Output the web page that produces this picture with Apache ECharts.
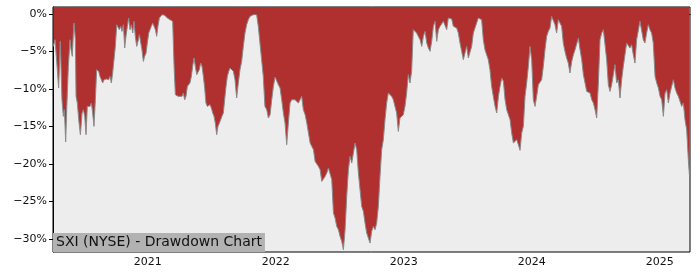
<!DOCTYPE html>
<html>
<head>
<meta charset="utf-8">
<script src="https://cdn.jsdelivr.net/npm/echarts@6/dist/echarts.min.js"></script>
<style>html,body{margin:0;padding:0;background:#fff}#c{width:700px;height:280px}</style>
</head>
<body>
<div id="c"></div>
<script>
// Dates as decimal years, drawdown in percent
const years = [
2020.263,2020.276,2020.289,2020.304,2020.317,2020.330,2020.341,2020.349,2020.359,2020.367,
2020.380,2020.393,2020.401,2020.411,2020.419,2020.424,2020.435,2020.440,2020.450,2020.461,
2020.474,2020.487,2020.497,2020.508,2020.518,2020.528,2020.539,2020.549,2020.560,2020.570,
2020.580,2020.591,2020.601,2020.617,2020.627,2020.638,2020.648,2020.659,2020.669,2020.679,
2020.695,2020.705,2020.716,2020.726,2020.737,2020.747,2020.758,2020.768,2020.778,2020.789,
2020.799,2020.810,2020.820,2020.830,2020.841,2020.851,2020.862,2020.872,2020.883,2020.893,
2020.903,2020.914,2020.924,2020.935,2020.945,2020.955,2020.966,2020.976,2020.987,2020.997,
2021.008,2021.018,2021.028,2021.039,2021.049,2021.060,2021.070,2021.080,2021.091,2021.101,
2021.112,2021.122,2021.133,2021.143,2021.153,2021.164,2021.174,2021.185,2021.195,2021.206,
2021.216,2021.226,2021.237,2021.252,2021.268,2021.278,2021.289,2021.299,2021.310,2021.320,
2021.330,2021.341,2021.351,2021.362,2021.372,2021.383,2021.393,2021.403,2021.414,2021.424,
2021.435,2021.445,2021.455,2021.466,2021.476,2021.487,2021.497,2021.508,2021.518,2021.528,
2021.539,2021.549,2021.560,2021.570,2021.580,2021.591,2021.601,2021.612,2021.622,2021.633,
2021.643,2021.656,2021.669,2021.682,2021.695,2021.708,2021.721,2021.734,2021.747,2021.760,
2021.773,2021.786,2021.799,2021.812,2021.825,2021.838,2021.851,2021.864,2021.877,2021.890,
2021.903,2021.916,2021.930,2021.943,2021.956,2021.969,2021.982,2021.995,2022.008,2022.021,
2022.034,2022.047,2022.060,2022.073,2022.086,2022.099,2022.112,2022.125,2022.138,2022.151,
2022.164,2022.177,2022.190,2022.203,2022.216,2022.230,2022.243,2022.256,2022.269,2022.282,
2022.295,2022.308,2022.321,2022.334,2022.347,2022.360,2022.373,2022.386,2022.399,2022.412,
2022.425,2022.438,2022.451,2022.464,2022.477,2022.490,2022.503,2022.516,2022.529,2022.542,
2022.555,2022.568,2022.581,2022.594,2022.607,2022.620,2022.633,2022.646,2022.659,2022.672,
2022.685,2022.698,2022.711,2022.724,2022.737,2022.750,2022.763,2022.776,2022.789,2022.802,
2022.815,2022.828,2022.841,2022.854,2022.867,2022.880,2022.893,2022.906,2022.919,2022.932,
2022.945,2022.958,2022.971,2022.984,2022.997,2023.010,2023.023,2023.036,2023.049,2023.062,
2023.075,2023.088,2023.101,2023.114,2023.128,2023.141,2023.154,2023.167,2023.180,2023.193,
2023.206,2023.219,2023.232,2023.245,2023.258,2023.271,2023.284,2023.297,2023.310,2023.323,
2023.336,2023.349,2023.362,2023.375,2023.388,2023.401,2023.414,2023.427,2023.440,2023.453,
2023.466,2023.479,2023.492,2023.505,2023.518,2023.531,2023.544,2023.557,2023.570,2023.583,
2023.596,2023.609,2023.622,2023.635,2023.648,2023.661,2023.674,2023.687,2023.700,2023.714,
2023.727,2023.740,2023.753,2023.766,2023.779,2023.792,2023.805,2023.818,2023.831,2023.844,
2023.857,2023.870,2023.883,2023.896,2023.909,2023.922,2023.935,2023.948,2023.961,2023.974,
2023.987,2024.000,2024.013,2024.026,2024.039,2024.052,2024.065,2024.078,2024.091,2024.104,
2024.117,2024.130,2024.143,2024.156,2024.169,2024.182,2024.195,2024.208,2024.221,2024.234,
2024.247,2024.260,2024.273,2024.286,2024.299,2024.313,2024.326,2024.339,2024.352,2024.365,
2024.378,2024.391,2024.404,2024.417,2024.430,2024.443,2024.456,2024.469,2024.482,2024.495,
2024.508,2024.521,2024.534,2024.547,2024.560,2024.573,2024.586,2024.599,2024.612,2024.625,
2024.638,2024.651,2024.664,2024.677,2024.690,2024.703,2024.716,2024.729,2024.742,2024.755,
2024.768,2024.781,2024.794,2024.807,2024.820,2024.833,2024.846,2024.859,2024.872,2024.885,
2024.898,2024.911,2024.924,2024.937,2024.950,2024.964,2024.977,2024.990,2025.003,2025.016,
2025.029,2025.042,2025.055,2025.068,2025.081,2025.094,2025.107,2025.120,2025.133,2025.146,
2025.159,2025.172,2025.185,2025.198,2025.211,2025.224,2025.232
];
const drawdown = [
-4.32,-3.43,-6.32,-9.87,-3.65,-11.43,-13.65,-12.76,-17.07,-12.76,
-6.98,-3.43,-4.76,-5.65,-2.54,-1.20,-3.43,-10.98,-11.87,-14.09,
-16.09,-13.20,-12.76,-13.65,-16.09,-12.32,-12.09,-12.32,-11.87,-13.20,
-14.98,-11.43,-7.43,-7.65,-8.32,-8.76,-9.20,-8.76,-8.98,-8.67,
-8.76,-8.32,-9.20,-7.87,-7.65,-4.32,-1.43,-1.20,-2.09,-1.65,
-2.32,-1.43,-4.54,-2.98,-1.65,-0.54,-2.09,-1.43,-2.54,-0.98,
-2.98,-4.32,-3.65,-2.76,-2.98,-4.76,-6.32,-5.65,-5.20,-3.87,
-2.54,-2.09,-1.65,-1.20,-0.98,-2.09,-2.98,-1.65,-0.54,-0.32,
-0.09,-0.32,-0.18,0,-0.54,-0.67,-0.76,-0.76,-0.98,-6.98,
-10.76,-10.98,-10.98,-10.76,-10.98,-10.54,-11.43,-10.98,-9.65,-9.87,
-9.20,-8.32,-6.98,-5.87,-6.98,-8.09,-8.32,-7.43,-6.54,-6.98,
-8.32,-9.87,-11.87,-12.32,-12.32,-12.09,-12.54,-13.20,-13.65,-14.54,
-16.09,-14.98,-14.54,-14.09,-13.65,-13.20,-11.43,-9.65,-8.32,-7.65,
-7.20,-6.98,-7.65,-8.76,-11.20,-9.20,-7.43,-6.32,-4.32,-2.54,
-1.43,-0.76,-0.32,-0.18,-0.09,0,-0.09,-1.65,-3.87,-6.09,
-8.32,-12.32,-12.76,-13.87,-13.43,-11.43,-9.65,-8.40,-8.54,-9.43,
-9.87,-11.43,-13.20,-14.54,-17.43,-14.54,-11.87,-11.43,-11.65,-11.43,
-11.20,-11.87,-11.43,-10.98,-12.76,-13.43,-14.54,-15.87,-17.20,-17.65,
-18.09,-19.65,-19.87,-20.32,-20.76,-22.32,-22.09,-21.65,-21.20,-20.54,
-20.32,-22.09,-26.54,-27.20,-28.32,-28.76,-29.65,-30.32,-31.43,-28.76,
-24.32,-20.76,-18.98,-19.87,-18.54,-17.20,-18.09,-21.20,-23.43,-25.65,
-26.32,-27.87,-29.20,-29.87,-30.54,-28.98,-28.32,-28.76,-27.87,-25.65,
-21.65,-18.09,-16.76,-14.09,-11.87,-10.54,-10.76,-10.98,-11.43,-12.32,
-13.20,-15.65,-13.87,-13.65,-13.43,-12.32,-10.54,-8.09,-9.20,-7.65,
-2.09,-1.87,-2.54,-2.98,-3.43,-4.32,-2.98,-2.32,-3.87,-4.54,
-4.98,-3.65,-1.65,-0.98,-3.65,-2.09,-1.65,-1.43,-0.98,-0.76,
-2.09,-0.54,-0.32,-0.67,-1.65,-1.43,-1.87,-2.54,-3.87,-4.98,
-6.09,-5.20,-4.32,-5.87,-5.87,-4.32,-2.54,-2.32,-1.20,-0.54,
-0.32,-0.76,-3.43,-4.76,-4.98,-6.09,-7.43,-9.65,-10.98,-12.32,
-13.20,-10.98,-9.65,-8.54,-8.98,-11.43,-12.76,-13.43,-14.09,-15.87,
-17.20,-16.98,-16.76,-17.43,-18.18,-15.87,-14.98,-10.98,-9.20,-6.98,
-4.32,-6.09,-11.43,-12.32,-10.98,-9.43,-9.20,-8.76,-6.98,-4.76,
-2.98,-2.32,-1.87,-0.32,-0.32,-1.43,-2.54,-0.76,-0.98,-1.65,
-3.87,-4.98,-5.87,-6.54,-7.87,-6.32,-5.43,-4.76,-4.54,-3.20,
-4.76,-6.09,-8.09,-9.20,-10.32,-10.09,-10.54,-11.43,-11.87,-12.76,
-13.87,-9.20,-3.43,-2.54,-2.09,-1.87,-6.09,-9.43,-10.32,-9.43,
-8.09,-6.76,-9.20,-8.76,-11.20,-8.76,-6.98,-5.43,-3.87,-4.09,
-4.54,-4.09,-5.43,-6.54,-3.43,-3.20,-0.98,-0.76,-3.43,-3.87,
-2.54,-1.43,-2.09,-2.54,-3.87,-8.32,-9.20,-9.87,-10.98,-11.43,
-13.65,-10.54,-10.09,-11.87,-10.54,-9.65,-8.76,-9.87,-10.54,-10.98,
-11.65,-12.32,-11.87,-14.09,-15.43,-19.43,-21.43
];
const yearTicks = [2021, 2022, 2023, 2024, 2025];
const pctTicks = [0, -5, -10, -15, -20, -25, -30];
const chartTitle = 'SXI (NYSE) - Drawdown Chart';

const seriesData = years.map((y, i) => [y, drawdown[i]]);
const font = 'DejaVu Sans';
const chart = echarts.init(document.getElementById('c'), null, {renderer: 'canvas'});
chart.setOption({
  animation: false,
  backgroundColor: '#ffffff',
  title: {
    text: chartTitle,
    left: 53, bottom: 28,
    backgroundColor: '#b2b2b2',
    padding: [2, 3, 2, 3],
    textStyle: {fontFamily: font, fontSize: 14, fontWeight: 'normal', color: '#111', lineHeight: 15}
  },
  grid: {
    left: 53, right: 10, top: 7, bottom: 28,
    show: true, backgroundColor: '#ededed', borderColor: '#000', borderWidth: 1
  },
  xAxis: {
    type: 'value', min: 2020.26, max: 2025.237,
    splitLine: {show: false},
    axisLine: {show: true, lineStyle: {color: '#000', width: 1}},
    axisTick: {show: true, length: 4, lineStyle: {color: '#000'}, customValues: yearTicks},
    axisLabel: {customValues: yearTicks, formatter: v => String(Math.round(v)), color: '#111', fontFamily: font, fontSize: 11, margin: 5}
  },
  yAxis: {
    type: 'value', min: -31.73, max: 0.93,
    splitLine: {show: false},
    axisLine: {show: true, lineStyle: {color: '#000', width: 1}},
    axisTick: {show: true, length: 4, lineStyle: {color: '#000'}, customValues: pctTicks},
    axisLabel: {customValues: pctTicks, formatter: v => (v < 0 ? '\u2212' + (-v) : String(v)) + '%', color: '#111', fontFamily: font, fontSize: 11, margin: 6}
  },
  series: [{
    type: 'line',
    data: seriesData,
    showSymbol: false,
    symbol: 'none',
    smooth: false,
    lineStyle: {color: '#8a8a8a', width: 1},
    areaStyle: {color: '#b03030', opacity: 1, origin: 'end'},
    z: 2
  }]
});
</script>
</body>
</html>
